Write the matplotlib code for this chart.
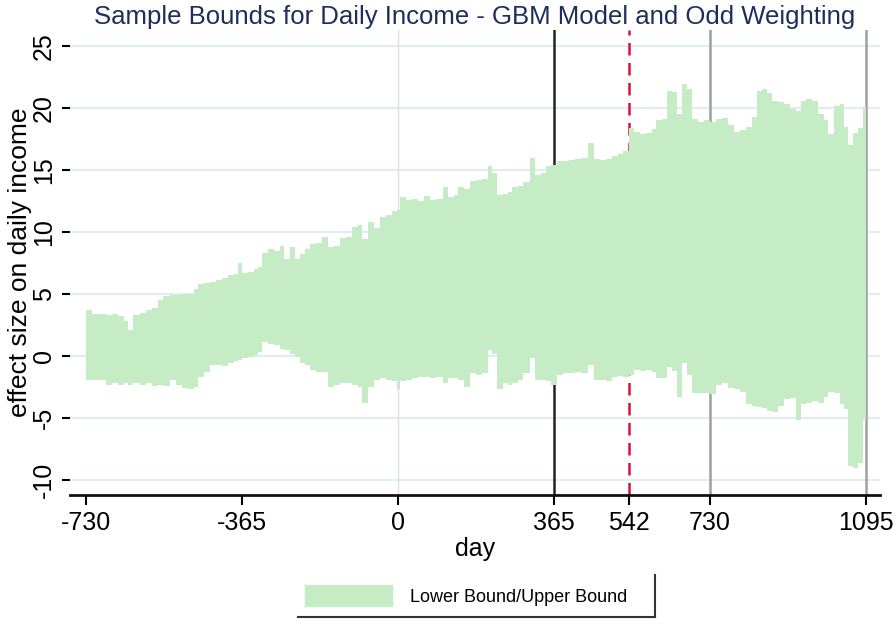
import matplotlib.pyplot as plt
from matplotlib.lines import Line2D
from matplotlib.patches import Patch

plt.rcParams['font.family'] = ['Liberation Sans', 'DejaVu Sans']
plt.rcParams['axes.unicode_minus'] = False

# 数据：天数，上界，下界
days = [-730, -716, -697, -683, -669, -655, -641, -632, -620, -604, -590, -576,
        -562, -548, -533, -519, -505, -491, -477, -468, -454, -440, -426, -412,
        -398, -384, -374, -365, -351, -337, -328, -318, -304, -290, -276, -267,
        -253, -241, -229, -218, -206, -192, -178, -164, -150, -136, -122, -108,
        -94, -84, -70, -56, -42, -28, -14, -2, 5, 19, 33, 47, 61, 75, 89, 105,
        117, 131, 140, 154, 168, 182, 197, 211, 220, 232, 246, 257, 267, 281,
        292, 309, 321, 335, 346, 358, 372, 386, 400, 414, 428, 445, 459, 473,
        487, 501, 515, 526, 542, 552, 566, 580, 594, 604, 618, 629, 641, 653,
        664, 676, 688, 702, 716, 730, 744, 758, 772, 786, 800, 814, 828, 840,
        852, 863, 875, 889, 903, 917, 931, 943, 955, 969, 983, 997, 1006, 1020,
        1034, 1043, 1053, 1065, 1076, 1088, 1095]
upper = [3.7, 3.4, 3.4, 3.3, 3.4, 3.2, 2.8, 2.1, 3.3, 3.5, 3.7, 3.9,
         4.5, 4.8, 4.9, 4.9, 5.0, 5.0, 5.4, 5.8, 5.9, 6.0, 6.1, 6.3,
         6.5, 6.6, 7.5, 6.7, 6.8, 7.0, 7.2, 8.3, 8.6, 8.5, 8.9, 7.8,
         8.8, 7.8, 8.2, 8.6, 9.0, 9.1, 9.6, 8.8, 8.9, 9.5, 9.6, 10.4,
         10.6, 9.4, 10.8, 10.3, 11.2, 11.4, 11.7, 11.8, 12.8, 12.6, 12.7, 12.5, 12.9, 12.6, 12.7, 13.6,
         12.8, 13.0, 13.6, 13.5, 14.1, 14.2, 14.3, 15.3, 14.8, 13.0, 13.1, 13.2, 13.6, 13.7,
         14.0, 16.0, 14.6, 14.8, 15.3, 15.4, 15.7, 15.7, 15.8, 15.9, 16.0, 17.2, 15.9, 15.8,
         15.9, 16.1, 16.3, 16.5, 18.4, 18.1, 17.9, 18.0, 18.3, 19.0, 19.1, 21.4, 21.3, 19.5,
         21.9, 21.5, 19.1, 18.9, 19.0, 18.9, 19.1, 19.2, 18.6, 18.1, 18.2, 18.5, 19.3, 21.4,
         21.5, 21.2, 20.6, 20.5, 20.3, 19.9, 19.8, 20.6, 20.7, 20.6, 19.5, 19.0, 17.9, 20.2,
         20.3, 18.5, 17.0, 18.0, 18.4, 20.1, 20.1]
lower = [-1.9, -1.9, -1.9, -2.3, -2.2, -2.3, -2.2, -2.3, -2.2, -2.3, -2.2, -2.4,
         -2.3, -2.4, -1.9, -2.3, -2.6, -2.7, -2.5, -1.7, -1.3, -0.7, -0.7, -0.8,
         -0.6, -0.4, -0.3, -0.2, -0.1, 0.1, 0.3, 1.1, 1.0, 0.9, 0.6, 0.5,
         0.2, -0.1, -0.6, -0.7, -1.1, -1.3, -1.3, -2.5, -2.3, -2.2, -2.2, -2.3,
         -2.5, -3.8, -2.5, -1.9, -1.8, -1.9, -2.0, -2.7, -2.0, -1.9, -1.8, -1.7, -1.7, -1.8, -1.7, -2.2,
         -1.8, -1.8, -1.9, -2.5, -1.4, -1.5, -1.4, 0.5, 0.2, -2.7, -2.2, -2.3, -2.2, -1.9,
         -1.4, -0.2, -1.9, -1.9, -2.0, -2.3, -1.5, -1.4, -1.4, -1.3, -1.4, -0.7, -1.9, -1.9,
         -2.0, -1.7, -1.6, -1.7, -1.5, -1.1, -1.2, -1.1, -1.3, -1.8, -1.8, -0.9, -1.2, -3.3,
         -0.6, -1.5, -3.0, -3.0, -3.0, -3.1, -2.3, -2.2, -2.6, -2.7, -2.9, -3.9, -4.0, -4.1,
         -4.2, -4.4, -4.5, -4.0, -3.5, -3.4, -5.2, -3.9, -3.8, -3.6, -3.8, -3.3, -2.9, -3.0,
         -3.9, -4.3, -8.9, -9.0, -8.6, -5.2, -5.2]

x_ticks = [-730, -365, 0, 365, 542, 730, 1095]
y_ticks = [-10, -5, 0, 5, 10, 15, 20, 25]
fill_color = '#c5ecc5'

fig = plt.figure(figsize=(8.96, 6.24), dpi=100)
ax = fig.add_axes([0.078, 0.207, 0.904, 0.745])

# 水平网格线
for y in y_ticks:
    ax.axhline(y, color='#e3ecf1', lw=1.5, zorder=0)

# 竖线
ax.axvline(0, color='#dcdfe6', lw=1, zorder=0.5)
ax.axvline(365, color='#222222', lw=1.8, zorder=1)
ax.axvline(542, color='#d3143c', lw=1.8, ls=(0, (5, 3)), zorder=1)
ax.axvline(730, color='#a0a0a0', lw=1.8, zorder=1)
ax.axvline(1095, color='#a0a0a0', lw=1.8, zorder=1)

# 上下界区域
ax.fill_between(days, lower, upper, step='post', color=fill_color, lw=0, zorder=2)

ax.set_xlim(-767, 1128)
ax.set_ylim(-11.2, 26.3)
ax.set_xticks(x_ticks)
ax.set_yticks(y_ticks)

for s in ['top', 'right', 'left']:
    ax.spines[s].set_visible(False)
ax.spines['bottom'].set_linewidth(2)
ax.spines['bottom'].set_color('#111111')

ax.tick_params(axis='x', length=7, width=1.5, labelsize=18, pad=5)
ax.tick_params(axis='y', length=6, width=1.5, labelsize=18, labelrotation=90, pad=4)
for lab in ax.get_yticklabels():
    lab.set_va('center')

ax.set_xlabel('day', fontsize=18, labelpad=1)
ax.set_ylabel('effect size on daily income', fontsize=19, labelpad=0)
ax.set_title('Sample Bounds for Daily Income - GBM Model and Odd Weighting',
             fontsize=18.5, color='#1e2d5c', pad=4)

# 图例
leg = fig.legend(handles=[Patch(color=fill_color, label='Lower Bound/Upper Bound')],
                 loc='center', bbox_to_anchor=(0.52, 0.045), frameon=False,
                 fontsize=13, handlelength=4.8, handleheight=1.4, handletextpad=1.0)
fig.add_artist(Line2D([0.333, 0.731], [0.011, 0.011], color='#333333', lw=1.5))
fig.add_artist(Line2D([0.731, 0.731], [0.011, 0.079], color='#333333', lw=1.5))

fig.savefig('out.png', dpi=100)
